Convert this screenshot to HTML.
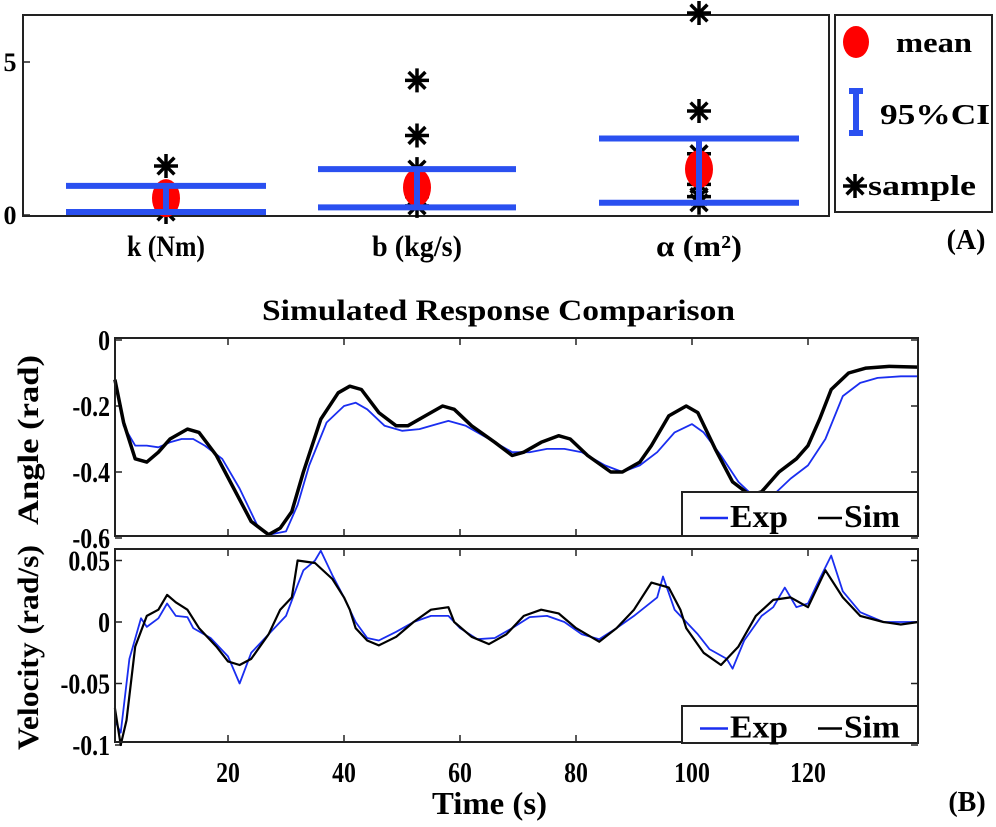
<!DOCTYPE html>
<html><head><meta charset="utf-8"><style>
html,body{margin:0;padding:0;background:#fff;}
svg{display:block;font-family:"Liberation Serif",serif;font-weight:bold;}
</style></head><body>
<svg id="fig" width="996" height="827" viewBox="0 0 996 827" xmlns="http://www.w3.org/2000/svg">
<g id="pa"></g>
<g id="pb"></g>
</svg>
<script>
// Panel A data
const paramCats = ["k (Nm)", "b (kg/s)", "α (m²)"];
const paramMeans = [0.55, 0.9, 1.5];
const ciLow = [0.1, 0.25, 0.4];
const ciHigh = [0.95, 1.5, 2.5];
const samplesK = [1.6, 0.6, 0.4, 0.1];
const samplesB = [4.4, 2.6, 1.5, 1.0, 0.6, 0.3];
const samplesA = [6.6, 3.4, 2.0, 1.7, 1.0, 0.6, 0.4];
const yTicksA = [0, 5];
// Panel B data
const tAngSim = [0.5,2,4,6,8,10,13,15,18,21,24,27,29,31,33,36,39,41,43,46,49,51,54,57,59,62,66,69,71,74,77,79,82,86,88,91,93,96,99,101,104,107,110,112,115,118,120,122,124,127,130,134,139];
const angSim = [-0.12,-0.25,-0.36,-0.37,-0.34,-0.30,-0.27,-0.28,-0.35,-0.45,-0.55,-0.59,-0.57,-0.52,-0.40,-0.24,-0.16,-0.14,-0.15,-0.22,-0.26,-0.26,-0.23,-0.20,-0.21,-0.26,-0.31,-0.35,-0.34,-0.31,-0.29,-0.30,-0.35,-0.40,-0.40,-0.37,-0.32,-0.23,-0.20,-0.22,-0.33,-0.43,-0.47,-0.46,-0.40,-0.36,-0.32,-0.24,-0.15,-0.10,-0.085,-0.08,-0.082];
const tAngExp = [0.5,2,4,6,8,10,12,14,16,19,22,25,27,30,32,34,37,40,42,44,47,50,53,56,58,61,65,69,72,75,78,81,85,88,91,94,97,100,102,105,108,111,114,117,120,123,126,129,132,136,139];
const angExp = [-0.12,-0.26,-0.32,-0.32,-0.325,-0.31,-0.30,-0.30,-0.32,-0.36,-0.45,-0.56,-0.59,-0.58,-0.50,-0.38,-0.25,-0.20,-0.19,-0.21,-0.26,-0.275,-0.27,-0.255,-0.245,-0.26,-0.30,-0.34,-0.34,-0.33,-0.33,-0.34,-0.38,-0.40,-0.38,-0.34,-0.28,-0.255,-0.28,-0.35,-0.43,-0.48,-0.47,-0.42,-0.38,-0.30,-0.17,-0.13,-0.115,-0.11,-0.11];
const tVelSim = [0.5,1.5,2.5,4,6,8,9.5,11,13,15,18,20,22,24,27,29,31,32,35,38,40,41,42,44,46,49,52,55,58,59,62,65,68,71,74,77,80,84,87,90,93,96,98,99,102,105,108,111,114,117,120,123,126,129,133,136,139];
const velSim = [-0.07,-0.1,-0.08,-0.02,0.005,0.01,0.022,0.016,0.01,-0.005,-0.02,-0.032,-0.035,-0.03,-0.01,0.01,0.02,0.05,0.048,0.035,0.02,0.01,-0.005,-0.015,-0.019,-0.012,0.0,0.01,0.012,0.0,-0.012,-0.018,-0.01,0.005,0.01,0.007,-0.005,-0.016,-0.005,0.01,0.032,0.028,0.01,-0.005,-0.025,-0.035,-0.02,0.005,0.018,0.02,0.012,0.042,0.02,0.005,0.0,-0.002,0.0];
const tVelExp = [0.5,1.5,3,5,6,8,9.5,11,13,14,17,20,22,24,27,30,32,33,35,36,38,40,41,42,44,46,49,52,55,58,60,63,66,69,72,75,78,81,84,87,90,94,95,97,99,101,103,106,107,109,112,114,116,118,120,122,124,126,129,133,139];
const velExp = [-0.08,-0.09,-0.03,0.003,-0.004,0.003,0.015,0.005,0.004,-0.005,-0.013,-0.028,-0.05,-0.025,-0.01,0.005,0.03,0.042,0.05,0.058,0.038,0.02,0.01,0.0,-0.013,-0.015,-0.008,0.0,0.005,0.005,-0.005,-0.014,-0.013,-0.005,0.004,0.005,0.0,-0.01,-0.014,-0.005,0.005,0.02,0.037,0.01,0.0,-0.01,-0.022,-0.03,-0.038,-0.015,0.005,0.012,0.028,0.012,0.015,0.035,0.054,0.025,0.008,0.0,0.0];
const xTicks = [20,40,60,80,100,120];
const angTicks = [0,-0.2,-0.4,-0.6];
const velTicks = [0.05,0,-0.05,-0.1];
const velTickLabels = ["0.05","0","-0.05","-0.1"];

const NS="http://www.w3.org/2000/svg";
function mk(parent,tag,attrs,text){const e=document.createElementNS(NS,tag);for(const k in attrs)e.setAttribute(k,attrs[k]);if(text!==undefined)e.textContent=text;parent.appendChild(e);return e;}
function sq(attrs,ratio){attrs.transform=(attrs.transform||'');return attrs;}

// ---------- Panel A ----------
const pa=document.getElementById('pa');
const catX=[166,417,699];
const ciHalf=[100,99,100];
const yA=v=>215-30.6*v;
function star(g,cx,cy,r){
  mk(g,'path',{d:`M${cx-r} ${cy}H${cx+r}M${cx} ${cy-r}V${cy+r}M${cx-r*0.7} ${cy-r*0.7}L${cx+r*0.7} ${cy+r*0.7}M${cx-r*0.7} ${cy+r*0.7}L${cx+r*0.7} ${cy-r*0.7}`,stroke:'#000','stroke-width':3.5,fill:'none'});
}
const axA=mk(pa,'rect',{x:23,y:15,width:806,height:201,fill:'none',stroke:'#222','stroke-width':2});

yTicksA.forEach(v=>{
  const t=mk(pa,'text',{x:10,y:yA(v)+9,'font-size':26,'text-anchor':'middle'},String(v));
  
  mk(pa,'line',{x1:23,x2:30,y1:yA(v),y2:yA(v),stroke:'#222','stroke-width':1.5});
});
const allSamples=[samplesK,samplesB,samplesA];
const catLen=[78,90,86];
paramCats.forEach((c,i)=>{
  const g=mk(pa,'g',{});
  
  allSamples[i].forEach(s=>{const sg=mk(g,'g',{});star(sg,catX[i],yA(s),12);});
  const m=mk(g,'ellipse',{cx:catX[i],cy:yA(paramMeans[i]),rx:14,ry:19,fill:'#f00'});
  
  const ci=mk(g,'path',{d:`M${catX[i]-ciHalf[i]} ${yA(ciHigh[i])}H${catX[i]+ciHalf[i]}M${catX[i]-ciHalf[i]} ${yA(ciLow[i])}H${catX[i]+ciHalf[i]}M${catX[i]} ${yA(ciLow[i])}V${yA(ciHigh[i])}`,stroke:'#2a50f0','stroke-width':6,fill:'none'});
  
  const lab=mk(g,'text',{x:catX[i]-catLen[i]/2,y:256,'font-size':30,textLength:catLen[i],lengthAdjust:'spacingAndGlyphs'},c);
  
});
const legA=mk(pa,'g',{});
mk(legA,'rect',{x:835,y:15,width:157,height:197,fill:'#fff',stroke:'#222','stroke-width':2});
mk(legA,'ellipse',{cx:856,cy:42,rx:13,ry:16,fill:'#f00'});
mk(legA,'text',{x:896,y:52,'font-size':28,textLength:76,lengthAdjust:'spacingAndGlyphs'},'mean');
mk(legA,'path',{d:'M849 91H863M849 133H863M856 91V133',stroke:'#2a50f0','stroke-width':6,fill:'none'});
mk(legA,'text',{x:880,y:124,'font-size':28,textLength:110,lengthAdjust:'spacingAndGlyphs'},'95%CI');
star(legA,855,186,12);
mk(legA,'text',{x:868,y:195,'font-size':28,textLength:108,lengthAdjust:'spacingAndGlyphs'},'sample');
const la=mk(pa,'text',{x:966,y:249,'font-size':28,'text-anchor':'middle'},'(A)');


// ---------- Panel B ----------
const pb=document.getElementById('pb');
const L=115,R=918;
const xB=t=>112+5.8*t;
const yAng=v=>340-330*v;
const yVel=v=>622-1230*v;
const ti=mk(pb,'text',{x:262,y:320,'font-size':30,textLength:473,lengthAdjust:'spacingAndGlyphs'},'Simulated Response Comparison');

function panel(top,bot,yf,ticks,labels,name){
  const g=mk(pb,'g',{});
  ticks.forEach((v,i)=>{
    mk(g,'line',{x1:L,x2:L+7,y1:yf(v),y2:yf(v),stroke:'#222','stroke-width':1.5});
    mk(g,'line',{x1:R-7,x2:R,y1:yf(v),y2:yf(v),stroke:'#222','stroke-width':1.5});
    const t=mk(g,'text',{x:L-5,y:yf(v)+10,'font-size':28,'text-anchor':'end',transform:`translate(${(L-5)*0.15} 0) scale(0.85 1)`},labels[i]);
    
  });
  xTicks.forEach(v=>{
    mk(g,'line',{x1:xB(v),x2:xB(v),y1:bot,y2:bot-7,stroke:'#222','stroke-width':1.5});
    mk(g,'line',{x1:xB(v),x2:xB(v),y1:top,y2:top+7,stroke:'#222','stroke-width':1.5});
  });
  return g;
}
function line(g,ts,vs,yf,color,w,name){
  const p=mk(g,'polyline',{points:ts.map((t,i)=>xB(t).toFixed(1)+','+yf(vs[i]).toFixed(1)).join(' '),fill:'none',stroke:color,'stroke-width':w,'stroke-linejoin':'round'});
  
}
function legend(g,x,y,w,h){
  const lg=mk(g,'g',{});
  mk(lg,'rect',{x:x,y:y,width:w,height:h,fill:'#fff',stroke:'#222','stroke-width':2});
  mk(lg,'line',{x1:x+18,x2:x+46,y1:y+h/2+4,y2:y+h/2+4,stroke:'#1a2ef0','stroke-width':2.5});
  mk(lg,'text',{x:x+48,y:y+h/2+13,'font-size':32,textLength:58,lengthAdjust:'spacingAndGlyphs'},'Exp');
  mk(lg,'line',{x1:x+136,x2:x+160,y1:y+h/2+4,y2:y+h/2+4,stroke:'#000','stroke-width':2.5});
  mk(lg,'text',{x:x+162,y:y+h/2+13,'font-size':32,textLength:56,lengthAdjust:'spacingAndGlyphs'},'Sim');
}
const g1=panel(338,536,yAng,angTicks,["0","-0.2","-0.4","-0.6"],'angle-plot');
line(g1,tAngExp,angExp,yAng,'#1a2ef0',1.8,'angle-exp-line');
line(g1,tAngSim,angSim,yAng,'#000',3.5,'angle-sim-line');
mk(g1,'rect',{x:L,y:338,width:R-L,height:198,fill:'none',stroke:'#222','stroke-width':2});
legend(g1,682,492,236,44);
const yl1=mk(g1,'text',{transform:'translate(38,355) rotate(-90)','font-size':30,'text-anchor':'end',textLength:170,lengthAdjust:'spacingAndGlyphs'},'Angle (rad)');


const g2=panel(549,742,yVel,velTicks,velTickLabels,'velocity-plot');
line(g2,tVelExp,velExp,yVel,'#1a2ef0',1.8,'velocity-exp-line');
line(g2,tVelSim,velSim,yVel,'#000',2.2,'velocity-sim-line');
mk(g2,'rect',{x:L,y:549,width:R-L,height:193,fill:'none',stroke:'#222','stroke-width':2});
legend(g2,682,706,236,37);
const yl2=mk(g2,'text',{transform:'translate(38,545) rotate(-90)','font-size':30,'text-anchor':'end',textLength:205,lengthAdjust:'spacingAndGlyphs'},'Velocity (rad/s)');

xTicks.forEach(v=>{
  const t=mk(pb,'text',{x:xB(v),y:782,'font-size':28,'text-anchor':'middle',transform:`translate(${xB(v)*0.15} 0) scale(0.85 1)`},String(v));
  
});
const xl=mk(pb,'text',{x:432,y:814,'font-size':32,textLength:115,lengthAdjust:'spacingAndGlyphs'},'Time (s)');

const lb=mk(pb,'text',{x:967,y:811,'font-size':28,'text-anchor':'middle'},'(B)');

</script>
</body></html>
